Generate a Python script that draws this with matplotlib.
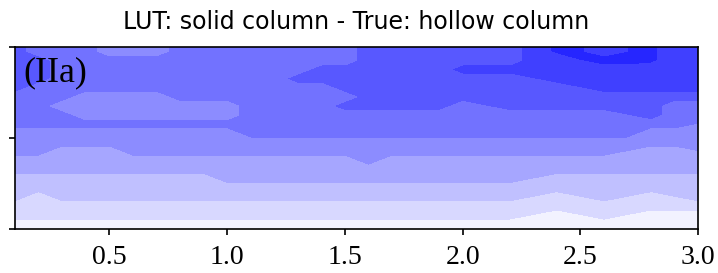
import numpy as np
import matplotlib
matplotlib.use("Agg")
import matplotlib.pyplot as plt

# x grid (columns) and y row centres
x_vals = np.round(np.arange(1, 31) * 0.1, 2)
y_centres = np.round(0.05 + 0.1 * np.arange(20), 3)

# contour-band index, per x column, rows bottom -> top
# (0 = lightest band, 8 = darkest band; .5 = on the boundary)
band_columns = [
    [0, 1, 1, 2, 2, 2, 3, 3, 4, 4, 4, 5, 5, 5, 5, 6, 6, 6, 6, 6],      # 0.1
    [0, 1, 1, 1, 2, 2, 3, 3, 4, 4, 4, 5, 5, 5, 5, 5, 6, 6, 6, 5],      # 0.2
    [0, 1, 1, 2, 2, 2, 3, 3, 3, 4, 4, 5, 5, 4, 5, 5, 5, 5, 5, 5],      # 0.3
    [0, 1, 1, 2, 2, 2, 3, 3, 3, 4, 4, 5, 4, 4, 4, 5, 5, 5, 5, 5],      # 0.4
    [0, 1, 1, 2, 2, 2, 3, 3, 3, 4, 4, 5, 4, 4, 4, 5, 5, 5, 5, 4],      # 0.5
    [0, 1, 1, 2, 2, 2, 3, 3, 4, 4, 4, 5, 4, 4, 4, 5, 5, 5, 5, 4],      # 0.6
    [0, 1, 1, 2, 2, 2, 3, 3, 4, 4, 4, 5, 4, 4, 4, 5, 5, 5, 5, 4],      # 0.7
    [0, 1, 1, 2, 2, 2, 3, 3, 4, 4, 4, 5, 4, 4, 5, 5, 5, 5, 5, 5],      # 0.8
    [0, 1, 1, 2, 2, 2, 3, 3, 4, 4, 4, 5, 4, 4, 5, 5, 5, 5, 5, 5],      # 0.9
    [0, 1, 1, 2, 2, 3, 3, 3, 4, 4, 4, 5, 4, 4, 5, 5, 5, 5, 5, 5],      # 1.0
    [0, 1, 1, 2, 2, 3, 3, 3, 4, 4, 5, 5, 5, 5, 5, 5, 5, 5, 5, 5],      # 1.1
    [0, 1, 1, 2, 2, 3, 3, 3, 4, 4, 5, 5, 5, 5, 5, 5, 5, 5, 5, 5],      # 1.2
    [0, 1, 1, 2, 2, 3, 3, 3, 4, 4, 5, 5, 5, 5, 5, 5, 6, 5, 5, 5],      # 1.3
    [0, 1, 1, 2, 2, 3, 3, 3, 4, 4, 5, 5, 5, 5, 5, 5, 6, 6, 5, 5],      # 1.4
    [0, 1, 1, 2, 2, 3, 3, 3, 4, 4, 5, 5, 5, 6, 5, 6, 6, 6, 5, 5],      # 1.5
    [0, 1, 1, 2, 2, 3, 3, 4, 4, 4, 5, 5, 5, 6, 6, 6, 6, 6, 6, 6],      # 1.6
    [0, 1, 1, 2, 2, 3, 3, 3, 4, 4, 5, 5, 5, 6, 6, 6, 6, 6, 6, 6],      # 1.7
    [0, 1, 1, 2, 2, 3, 3, 3, 4, 4, 5, 5, 5, 6, 6, 6, 6, 6, 6, 6],      # 1.8
    [0, 1, 1, 2, 2, 3, 3, 3, 4, 4, 5, 5, 5, 6, 6, 6, 6, 6, 6, 6],      # 1.9
    [0, 1, 1, 2, 2, 3, 3, 3, 4, 4, 5, 5, 5, 5, 6, 6, 6, 7, 6, 6],      # 2.0
    [0, 1, 1, 2, 2, 3, 3, 3, 4, 4, 5, 5, 5, 5.5, 6, 6, 6, 7, 6, 6],    # 2.1
    [0, 1, 1, 2, 2, 3, 3, 3, 4, 4, 5, 5, 5, 6, 6, 6, 6, 7, 6, 6],      # 2.2
    [0, 0.5, 1, 1.5, 2, 2.5, 3, 3, 4, 4, 5, 5, 5, 6, 6, 6, 6.5, 7, 7, 7],  # 2.3
    [0, 0, 1, 1, 2, 2, 3, 3, 4, 4, 5, 5, 5, 6, 6, 6, 7, 7, 7, 7.7],    # 2.4
    [0, 0.5, 1, 1.5, 2, 2, 3, 3, 4, 4, 5, 5, 5, 6, 6, 6.5, 7, 7, 7.5, 7.6],  # 2.5
    [0, 1, 1, 2, 2, 2, 3, 3, 4, 4, 5, 5, 5, 6, 6, 7, 7, 7, 8, 7],      # 2.6
    [0, 0.5, 1, 1.5, 2, 2, 3, 3, 3.5, 4, 5, 5, 5.5, 6, 6, 7, 7, 7, 8, 7.5],  # 2.7
    [0, 0, 1, 1, 2, 2, 3, 3, 3, 4, 4, 5, 6, 6, 6, 7, 7, 7, 7.7, 7.7],  # 2.8
    [0, 0, 1, 1.5, 2, 2, 3, 3, 3, 4, 4, 5, 5, 5, 6, 7, 7, 7, 7, 7],    # 2.9
    [0, 0, 1, 2, 2, 2, 3, 3, 3.5, 4, 4, 4.5, 5, 5, 6, 7, 7, 7, 7, 7],  # 3.0
]

levels = np.linspace(-1.0, 1.0, 21)
x_ticks = [0.5, 1.0, 1.5, 2.0, 2.5, 3.0]
y_ticks = [0, 1, 2]
title = "LUT: solid column - True: hollow column"
panel_label = "(IIa)"

# band index -> value at band centre
Z = -(np.array(band_columns, dtype=float).T + 0.5) / 10.0
# extend first/last rows to the axes edges
yy = np.concatenate([[0.0], y_centres, [2.0]])
Zp = np.vstack([Z[0], Z, Z[-1]])

fig = plt.figure(figsize=(7.18, 2.73), dpi=100)
ax = fig.add_axes([15 / 718, 1 - 229.3 / 273, 683.2 / 718, 182.6 / 273])
ax.contourf(x_vals, yy, Zp, levels=levels, cmap="bwr", vmin=-1, vmax=1)
ax.set_xlim(0.1, 3.0)
ax.set_ylim(0, 2)

serif = ["Liberation Serif", "DejaVu Serif"]
ax.set_xticks(x_ticks)
ax.set_xticklabels([f"{t:.1f}" for t in x_ticks], fontfamily=serif, fontsize=20)
ax.set_yticks(y_ticks)
ax.set_yticklabels([])
ax.tick_params(axis="both", direction="out", length=4, width=1.2, color="black")
ax.tick_params(axis="x", pad=7)
for s in ax.spines.values():
    s.set_linewidth(1.2)

ax.set_title(title, fontsize=17, fontfamily="DejaVu Sans", pad=13)
ax.text(0.012, 0.95, panel_label, transform=ax.transAxes, ha="left", va="top",
        fontsize=26, fontfamily=serif)

fig.savefig("out.png", dpi=100)
